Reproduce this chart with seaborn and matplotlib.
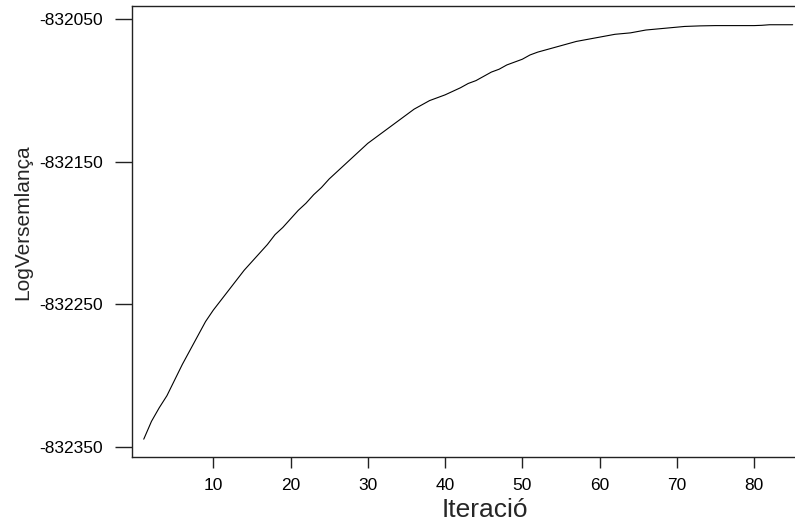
import numpy as np
import pandas as pd
import matplotlib
matplotlib.use("Agg")
import matplotlib.pyplot as plt
import seaborn as sns

# Log-likelihood per EM iteration
iterations = list(range(1, 86))
loglik = [
    -832344.5, -832332.0, -832322.5, -832314.0, -832303.0,
    -832292.0, -832282.0, -832272.0, -832262.0, -832254.0,
    -832247.0, -832240.0, -832233.0, -832226.0, -832220.0,
    -832214.0, -832208.0, -832201.0, -832196.0, -832190.0,
    -832184.0, -832179.0, -832173.0, -832168.0, -832162.0,
    -832157.0, -832152.0, -832147.0, -832142.0, -832137.0,
    -832133.0, -832129.0, -832125.0, -832121.0, -832117.0,
    -832113.0, -832110.0, -832107.0, -832105.0, -832103.0,
    -832100.5, -832098.0, -832095.0, -832093.0, -832090.0,
    -832087.0, -832085.0, -832082.0, -832080.0, -832078.0,
    -832075.0, -832073.0, -832071.5, -832070.0, -832068.5,
    -832067.0, -832065.5, -832064.5, -832063.5, -832062.5,
    -832061.5, -832060.5, -832060.0, -832059.5, -832058.5,
    -832057.5, -832057.0, -832056.5, -832056.0, -832055.5,
    -832055.0, -832054.8, -832054.6, -832054.5, -832054.4,
    -832054.4, -832054.4, -832054.4, -832054.4, -832054.4,
    -832054.2, -832053.8, -832053.8, -832053.8, -832053.8,
]
x_ticks = [10, 20, 30, 40, 50, 60, 70, 80]
y_ticks = [-832050, -832150, -832250, -832350]

df = pd.DataFrame({"Iteracio": iterations, "LogLik": loglik})

sns.set_theme(style="ticks")
plt.rcParams["font.family"] = ["Liberation Sans", "DejaVu Sans"]

fig = plt.figure(figsize=(7.95, 5.24), dpi=100)
# plot region runs past the right edge of the figure, as in the reference
ax = fig.add_axes([131.7 / 795, 67.3 / 524, (839 - 131.7) / 795, (456.7 - 5.5) / 524])

sns.lineplot(data=df, x="Iteracio", y="LogLik", color="black", linewidth=0.8, ax=ax)

ax.set_xlim(-0.56, 91.0)
ax.set_ylim(-832356.8, -832040.3)
ax.set_xticks(x_ticks)
ax.set_xticklabels([str(t) for t in x_ticks])
ax.set_yticks(y_ticks)
ax.set_yticklabels([str(t) for t in y_ticks])

for s in ax.spines.values():
    s.set_linewidth(1.0)
    s.set_color("#222222")

ax.tick_params(axis="y", length=12, width=1.0, pad=9, labelsize=12.5, colors="#222222", labelcolor="black")
ax.tick_params(axis="x", length=8, width=1.0, pad=7, labelsize=12.5, colors="#222222", labelcolor="black")

ax.set_xlabel("Iteració", fontsize=19, labelpad=4)
ax.set_ylabel("LogVersemlança", fontsize=15)
ax.yaxis.set_label_coords(-0.141, 0.52)

fig.savefig("out.png", dpi=100)
